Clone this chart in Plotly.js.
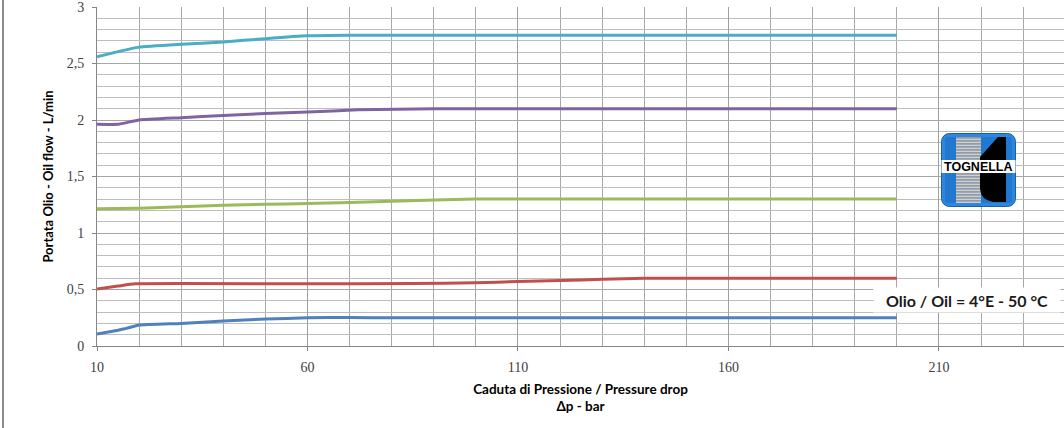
<!DOCTYPE html>
<html>
<head>
<meta charset="utf-8">
<script src="https://cdn.plot.ly/plotly-3.0.1.min.js"></script>
<style>html,body{margin:0;padding:0;background:#fff;}#chart{width:1064px;height:428px;}</style>
</head>
<body>
<div id="chart"></div>
<script>
// Pressure drop (bar) and oil flow (L/min) for five curves
const x_blue   = [10, 15, 17, 20, 30, 40, 50, 60, 70, 80, 200];
const y_blue   = [0.105, 0.14, 0.156, 0.185, 0.20, 0.222, 0.238, 0.25, 0.252, 0.25, 0.25];
const x_red    = [10, 15, 19, 60, 85, 100, 110, 120, 130, 140, 200];
const y_red    = [0.505, 0.53, 0.55, 0.55, 0.553, 0.56, 0.57, 0.58, 0.59, 0.60, 0.60];
const x_green  = [10, 20, 30, 40, 50, 60, 80, 100, 200];
const y_green  = [1.215, 1.22, 1.233, 1.246, 1.254, 1.26, 1.28, 1.30, 1.30];
const x_purple = [10, 15, 20, 30, 40, 50, 60, 72, 90, 200];
const y_purple = [1.962, 1.962, 2.0, 2.02, 2.04, 2.058, 2.07, 2.09, 2.10, 2.10];
const x_cyan   = [10, 15, 20, 30, 40, 50, 60, 70, 200];
const y_cyan   = [2.56, 2.605, 2.645, 2.67, 2.69, 2.72, 2.745, 2.75, 2.75];

const colors = ['#4F81BD', '#C0504D', '#9BBB59', '#8064A2', '#4BACC6'];
const seriesX = [x_blue, x_red, x_green, x_purple, x_cyan];
const seriesY = [y_blue, y_red, y_green, y_purple, y_cyan];

const xTitle = 'Caduta di Pressione / Pressure drop<br>Δp - bar';
const yTitle = 'Portata Olio - Oil flow - L/min';
const noteText = 'Olio / Oil = 4°E - 50 °C';
const logoText = 'TOGNELLA';

const traces = seriesX.map((xs, i) => ({
  x: xs, y: seriesY[i], type: 'scatter', mode: 'lines',
  line: {color: colors[i], width: 3, shape: 'spline', smoothing: 0.4}, hoverinfo: 'skip', showlegend: false
}));

// plot area in pixels
const L = 97, R = 1064, T = 7, B = 346;
const px = v => (v - L) / (R - L);
const py = v => (B - v) / (B - T);

const logoSvg = `<svg xmlns="http://www.w3.org/2000/svg" width="75" height="74" viewBox="0 0 75 74">
<rect x="0.5" y="0.5" width="74" height="73" rx="8" ry="8" fill="#2F86DD" stroke="#1B5FA8" stroke-width="1"/>
<rect x="4" y="4" width="67" height="66" rx="3" fill="#2277CF"/>
${Array.from({length: 22}, (_, k) => `<rect x="15" y="${4 + k*3}" width="25" height="1.5" fill="#9A9A9A"/><rect x="15" y="${5.5 + k*3}" width="25" height="1.5" fill="#CFCFCF"/>`).join('')}
<path d="M57 4 L65 4 L65 69 L52 69 Q40 67 39 56 L39 24 Z" fill="#000"/>
<rect x="0.5" y="27" width="74" height="13" fill="#FFFFFF"/>
</svg>`;
const logoSrc = 'data:image/svg+xml;charset=utf-8,' + encodeURIComponent(logoSvg);

const layout = {
  width: 1064, height: 428,
  margin: {l: L, r: 1064 - R, t: T, b: 428 - B, pad: 0},
  paper_bgcolor: '#ffffff', plot_bgcolor: '#ffffff',
  separators: ',.',
  showlegend: false,
  xaxis: {
    range: [10, 239.7], tick0: 10, dtick: 50, tickmode: 'linear',
    showgrid: true, gridcolor: '#A0A0A0', gridwidth: 1,
    minor: {tick0: 10, dtick: 10, showgrid: true, gridcolor: '#A8A8A8', gridwidth: 1},
    showline: true, linecolor: '#868686', linewidth: 1,
    ticks: 'outside', ticklen: 4, tickcolor: '#868686',
    zeroline: false,
    tickfont: {family: 'Liberation Serif, DejaVu Serif, serif', size: 14, color: '#404040'},
    ticklabelstandoff: 4,
    title: {text: xTitle, standoff: 10, font: {family: 'Lato, Liberation Sans, sans-serif', size: 13.5, color: '#000', weight: 'bold'}}
  },
  yaxis: {
    range: [0, 3], tick0: 0, dtick: 0.5, tickmode: 'linear',
    showgrid: true, gridcolor: '#A6A6A6', gridwidth: 1,
    minor: {tick0: 0, dtick: 0.1, showgrid: true, gridcolor: '#BDBDBD', gridwidth: 1},
    showline: true, linecolor: '#868686', linewidth: 1,
    ticks: 'outside', ticklen: 4, tickcolor: '#868686',
    zeroline: false, ticklabeloverflow: 'allow',
    tickfont: {family: 'Liberation Serif, DejaVu Serif, serif', size: 14, color: '#404040'},
    ticklabelstandoff: 5,
    title: {text: yTitle, standoff: 10, font: {family: 'Lato, Liberation Sans, sans-serif', size: 13, color: '#000', weight: 'bold'}}
  },
  shapes: [
    {type: 'line', xref: 'paper', yref: 'paper', x0: px(3), x1: px(3), y0: py(0), y1: py(428),
     line: {color: '#8C8C8C', width: 2}}
  ],
  images: [
    {source: logoSrc, xref: 'paper', yref: 'paper', x: px(941), y: py(133),
     sizex: px(1016) - px(941), sizey: py(133) - py(207), xanchor: 'left', yanchor: 'top',
     sizing: 'stretch', layer: 'above'}
  ],
  annotations: [
    {text: noteText, xref: 'paper', yref: 'paper', x: px(967), y: py(300), xanchor: 'center', yanchor: 'middle',
     showarrow: false, bgcolor: '#ffffff', width: 184, height: 22,
     font: {family: 'Lato, Liberation Sans, sans-serif', size: 16, color: '#1a1a1a', weight: 'bold'}},
    {text: logoText, xref: 'paper', yref: 'paper', x: px(978), y: py(167), xanchor: 'center', yanchor: 'middle',
     showarrow: false,
     font: {family: 'Liberation Sans, Arial, sans-serif', size: 12.5, color: '#000', weight: 'bold'}}
  ]
};

Plotly.newPlot('chart', traces, layout, {displayModeBar: false, staticPlot: true});
</script>
</body>
</html>
